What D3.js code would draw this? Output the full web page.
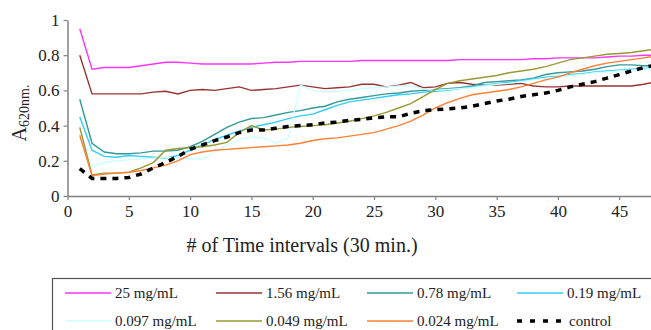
<!DOCTYPE html>
<html><head><meta charset="utf-8">
<script src="https://cdn.jsdelivr.net/npm/d3@7"></script>
<style>body{margin:0;background:#fff;} svg{display:block;}</style>
</head><body>
<svg id="chart" width="651" height="330"></svg>
<script>
const times = d3.range(1, 49);
const xTicks = [0,5,10,15,20,25,30,35,40,45];
const yTicks = [0,0.2,0.4,0.6,0.8,1];
const seriesNames = ["25 mg/mL","1.56 mg/mL","0.78 mg/mL","0.19 mg/mL","0.097 mg/mL","0.049 mg/mL","0.024 mg/mL","control"];
const s25 = [0.95,0.72,0.73,0.73,0.73,0.74,0.75,0.76,0.76,0.755,0.75,0.75,0.75,0.75,0.75,0.755,0.76,0.76,0.765,0.765,0.765,0.765,0.765,0.77,0.77,0.77,0.77,0.77,0.77,0.77,0.77,0.775,0.775,0.775,0.775,0.775,0.775,0.78,0.78,0.785,0.785,0.785,0.785,0.79,0.795,0.795,0.80,0.80];
const s156 = [0.80,0.58,0.58,0.58,0.58,0.58,0.59,0.595,0.58,0.60,0.605,0.60,0.61,0.62,0.60,0.605,0.61,0.62,0.63,0.62,0.61,0.615,0.62,0.635,0.635,0.62,0.63,0.645,0.615,0.62,0.64,0.645,0.635,0.63,0.63,0.635,0.64,0.625,0.62,0.62,0.625,0.625,0.625,0.625,0.625,0.625,0.635,0.65];
const s078 = [0.55,0.30,0.25,0.24,0.24,0.245,0.255,0.255,0.26,0.28,0.31,0.35,0.39,0.42,0.44,0.445,0.46,0.475,0.485,0.50,0.51,0.535,0.55,0.56,0.57,0.58,0.585,0.595,0.60,0.605,0.61,0.615,0.625,0.645,0.65,0.655,0.66,0.67,0.69,0.70,0.705,0.71,0.72,0.735,0.745,0.745,0.74,0.74];
const s019 = [0.45,0.26,0.225,0.22,0.23,0.225,0.22,0.215,0.23,0.26,0.29,0.32,0.345,0.37,0.39,0.405,0.42,0.44,0.455,0.465,0.49,0.515,0.535,0.545,0.555,0.565,0.575,0.58,0.59,0.595,0.60,0.61,0.62,0.63,0.64,0.645,0.655,0.665,0.675,0.68,0.69,0.695,0.705,0.71,0.715,0.72,0.725,0.73];
const s0097 = [0.38,0.17,0.19,0.20,0.205,0.21,0.215,0.22,0.215,0.21,0.21,0.25,0.29,0.32,0.335,0.33,0.30,0.33,0.63,0.60,0.59,0.595,0.60,0.61,0.615,0.62,0.625,0.625,0.61,0.60,0.605,0.61,0.615,0.625,0.635,0.64,0.65,0.66,0.67,0.675,0.685,0.69,0.70,0.705,0.71,0.715,0.72,0.725];
const s0049 = [0.39,0.12,0.13,0.13,0.135,0.16,0.19,0.26,0.27,0.275,0.28,0.29,0.305,0.36,0.40,0.375,0.38,0.39,0.395,0.40,0.405,0.415,0.425,0.44,0.455,0.475,0.50,0.525,0.565,0.605,0.64,0.655,0.665,0.675,0.685,0.70,0.71,0.72,0.735,0.755,0.775,0.785,0.795,0.805,0.81,0.815,0.825,0.835];
const s0024 = [0.345,0.115,0.125,0.13,0.135,0.145,0.16,0.175,0.20,0.235,0.25,0.26,0.265,0.27,0.275,0.28,0.285,0.29,0.30,0.315,0.325,0.33,0.34,0.35,0.36,0.38,0.40,0.425,0.46,0.50,0.53,0.555,0.575,0.585,0.595,0.605,0.62,0.64,0.66,0.675,0.70,0.72,0.74,0.755,0.765,0.775,0.785,0.795];
const sControl = [0.155,0.10,0.10,0.10,0.105,0.125,0.16,0.19,0.225,0.265,0.29,0.315,0.335,0.36,0.375,0.375,0.385,0.395,0.40,0.405,0.415,0.42,0.43,0.435,0.445,0.45,0.45,0.47,0.485,0.49,0.495,0.50,0.51,0.525,0.54,0.55,0.565,0.575,0.585,0.60,0.62,0.635,0.65,0.67,0.69,0.71,0.73,0.745];
const seriesValues = [s25,s156,s078,s019,s0097,s0049,s0024,sControl];
const colors = ["#ff33ff","#993333","#339999","#33ccff","#ccffff","#999933","#ff8033","#000000"];

const svg = d3.select("#chart");
const font = "'Liberation Serif','Times New Roman',serif";
const x = d3.scaleLinear().domain([0,48]).range([67.5,656]);
const y = d3.scaleLinear().domain([0,1]).range([196,20]);

// lines
const line = d3.line().x((d,i)=>x(times[i])).y(d=>y(d));
seriesValues.forEach((vals,k)=>{
  const isCtrl = k===7;
  svg.append("path").datum(vals).attr("d",line)
    .attr("fill","none").attr("stroke",colors[k])
    .attr("stroke-width", isCtrl?3.5:1.4)
    .attr("stroke-dasharray", isCtrl?"6,6":null);
});

// axes
const xAxis = svg.append("g").attr("transform","translate(0,196)")
  .call(d3.axisBottom(x).tickValues(xTicks).tickSize(4).tickPadding(5).tickSizeOuter(0));
const yAxis = svg.append("g").attr("transform","translate(67.5,0)")
  .call(d3.axisLeft(y).tickValues(yTicks).tickSize(4).tickPadding(4).tickSizeOuter(0).tickFormat(d3.format("")));
[xAxis,yAxis].forEach(g=>{
  g.select(".domain").attr("stroke","#808080").attr("stroke-width",1.5);
  g.selectAll(".tick line").attr("stroke","#808080").attr("stroke-width",1.2);
  g.selectAll("text").attr("font-family",font).attr("font-size",17).attr("fill","#222");
});

// axis titles
svg.append("text").attr("x",302).attr("y",252).attr("text-anchor","middle")
  .attr("font-family",font).attr("font-size",20).attr("fill","#222")
  .text("# of Time intervals (30 min.)");
const yl = svg.append("text").attr("transform","translate(26,113) rotate(-90)")
  .attr("text-anchor","middle").attr("font-family",font).attr("fill","#222");
yl.append("tspan").attr("font-size",20).text("A");
yl.append("tspan").attr("font-size",14).attr("dy",3).text("620nm.");

// legend
svg.append("rect").attr("x",52.5).attr("y",278.5).attr("width",640).attr("height",80)
  .attr("fill","none").attr("stroke","#555").attr("stroke-width",1.2);
const colX = [65,216,367,517];
const rowY = [293,321];
seriesNames.forEach((name,k)=>{
  const cx = colX[k%4], cy = rowY[Math.floor(k/4)];
  const isCtrl = k===7;
  svg.append("line").attr("x1",cx).attr("x2",cx+(isCtrl?50:46)).attr("y1",cy).attr("y2",cy)
    .attr("stroke",colors[k]).attr("stroke-width",isCtrl?3.5:1.5)
    .attr("stroke-dasharray",isCtrl?"5,8":null);
  svg.append("text").attr("x",isCtrl?cx+52:cx+50).attr("y",cy+5)
    .attr("font-family",font).attr("font-size",15).attr("fill","#222").text(name);
});
</script>
</body></html>
